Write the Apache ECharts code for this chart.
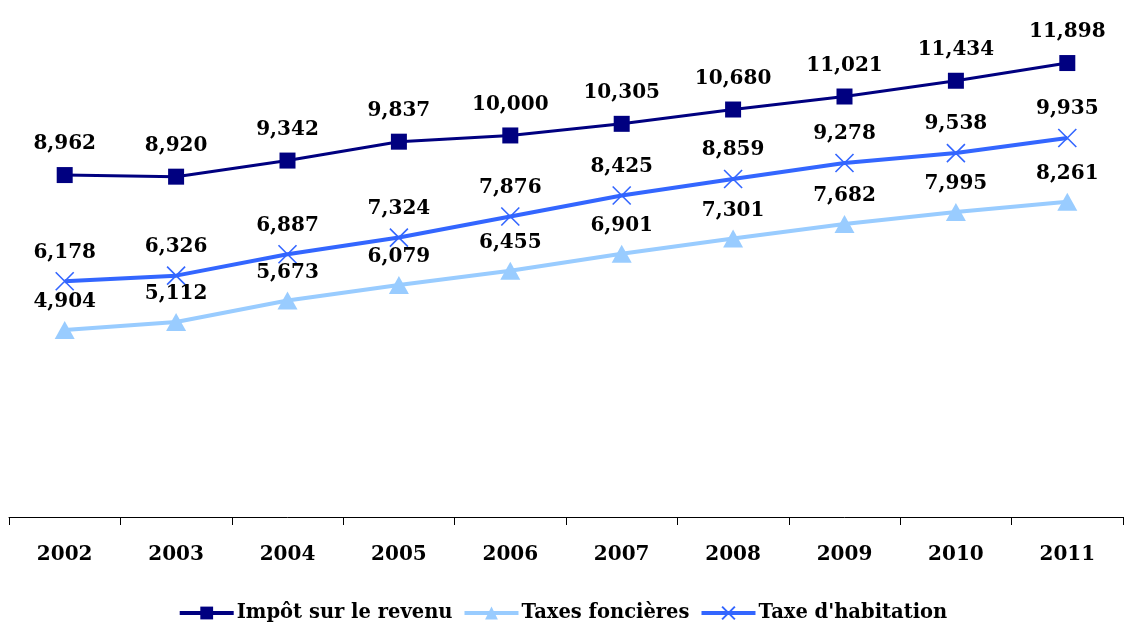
<!DOCTYPE html>
<html><head><meta charset="utf-8">
<script src="https://cdn.jsdelivr.net/npm/echarts@6/dist/echarts.min.js"></script>
<style>html,body{margin:0;padding:0;background:#fff}#c{width:1125px;height:628px}</style>
</head><body><div id="c"></div>
<script>
var years = ['2002','2003','2004','2005','2006','2007','2008','2009','2010','2011'];
var impot = [8962, 8920, 9342, 9837, 10000, 10305, 10680, 11021, 11434, 11898];
var foncieres = [4904, 5112, 5673, 6079, 6455, 6901, 7301, 7682, 7995, 8261];
var habitation = [6178, 6326, 6887, 7324, 7876, 8425, 8859, 9278, 9538, 9935];
var names = ['Impôt sur le revenu', 'Taxes foncières', "Taxe d'habitation"];

var chart = echarts.init(document.getElementById('c'));
var labelFont = {fontFamily: 'DejaVu Serif', fontWeight: 'bold', fontSize: 20, color: '#000'};
function fmt(p){ return p.value.toLocaleString('en-US'); }
chart.setOption({
  animation: false,
  grid: {left: 9, right: 2, top: 21, bottom: 111},
  legend: {
    bottom: 0, left: 'center', itemWidth: 54, itemHeight: 16, itemGap: 10,
    lineStyle: {width: 4},
    textStyle: {fontFamily: 'DejaVu Serif', fontWeight: 'bold', fontSize: 19.5, color: '#000', padding: [0,0,0,-2]},
    data: names
  },
  xAxis: {
    type: 'category', data: years, boundaryGap: true,
    axisLine: {lineStyle: {color: '#000', width: 1}},
    axisTick: {show: true, length: 8, lineStyle: {color: '#000'}},
    axisLabel: {margin: 28, fontFamily: 'DejaVu Serif', fontWeight: 'bold', fontSize: 20, color: '#000'}
  },
  yAxis: {type: 'value', min: 0, max: 13000, show: false, splitLine: {show: false}},
  series: [
    {name: names[0], type: 'line', data: impot, symbol: 'rect', symbolSize: 16,
     lineStyle: {color: '#000080', width: 3}, itemStyle: {color: '#000080'},
     label: Object.assign({show: true, position: 'top', distance: 13, formatter: fmt}, labelFont)},
    {name: names[1], type: 'line', data: foncieres, symbol: 'triangle', symbolSize: [20, 18],
     lineStyle: {color: '#99CCFF', width: 4}, itemStyle: {color: '#99CCFF'},
     label: Object.assign({show: true, position: 'top', distance: 9, formatter: fmt}, labelFont)},
    {name: names[2], type: 'line', data: habitation, symbol: 'path://M0,0L10,10M10,0L0,10', symbolSize: 18,
     lineStyle: {color: '#3366FF', width: 4},
     itemStyle: {color: 'rgba(0,0,0,0)', borderColor: '#3366FF', borderWidth: 1.6},
     label: Object.assign({show: true, position: 'top', distance: 9, formatter: fmt}, labelFont)}
  ]
});
</script></body></html>
